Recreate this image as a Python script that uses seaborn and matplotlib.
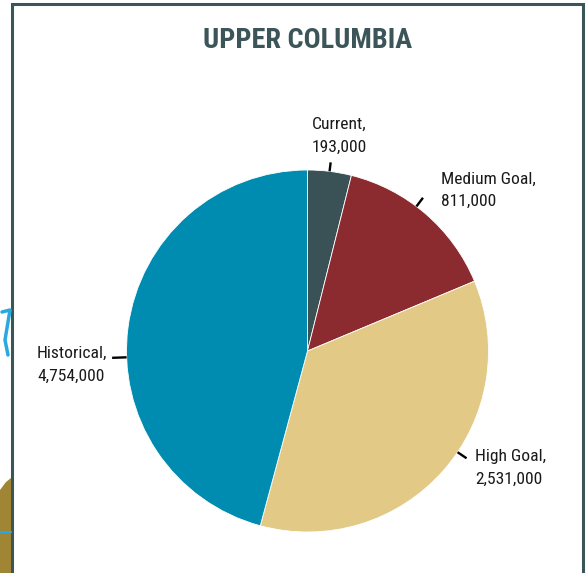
import numpy as np
import seaborn as sns
import matplotlib.pyplot as plt
from matplotlib.patches import Rectangle, Polygon

# data
categories = ["Current", "Medium Goal", "High Goal", "Historical"]
label_values = ["193,000", "811,000", "2,531,000", "4,754,000"]
# share of the circle each slice takes (percent)
slice_share = [3.9, 14.8, 35.5, 45.8]
colors = ["#3a5156", "#8b2a2f", "#e2c986", "#008bb0"]

sns.set_theme(style="white")
plt.rcParams['font.family'] = ['Roboto Condensed', 'Liberation Sans Narrow', 'Roboto', 'DejaVu Sans']

W, H = 587, 573
fig = plt.figure(figsize=(W / 100, H / 100), dpi=100)

# pie axes: centre (307.5, 351) px, radius 181 px
cx, cy, r = 307.5, 351, 181
ax = fig.add_axes([(cx - r) / W, (H - cy - r) / H, 2 * r / W, 2 * r / H])
wedges, _ = ax.pie(slice_share, colors=colors, startangle=90, counterclock=False,
                   radius=1, wedgeprops=dict(linewidth=0.6, edgecolor="white"))
ax.set_xlim(-1, 1)
ax.set_ylim(-1, 1)
ax.axis("off")

# leader line angle (deg clockwise from top), line end radius, text anchor
leader_ang = [7, 37, 124, 268]
leader_end = [1.05, 1.06, 1.06, 1.08]
text_pos = [(0.025, 1.188), (0.738, 0.887), (0.925, -0.646), (-1.494, -0.077)]
for cat, val, a, re, (tx, ty) in zip(categories, label_values, leader_ang, leader_end, text_pos):
    t = np.deg2rad(a)
    ax.plot([np.sin(t) * 1.0, np.sin(t) * re], [np.cos(t) * 1.0, np.cos(t) * re],
            color="black", lw=1.7, clip_on=False, solid_capstyle="butt")
    ax.text(tx, ty, f"{cat},\n{val}", ha="left", va="center", fontsize=12.6,
            linespacing=1.62, color="#1a1a1a", clip_on=False)

# title
fig.text(307.5 / W, 1 - 41 / H, "UPPER COLUMBIA", ha="center", va="center",
         fontsize=20.3, fontweight="bold", color="#3c5558")

# frame of the panel
fig.patches.append(Rectangle((12 / W, -0.05), (583 - 12) / W, 1 - 4 / H + 0.05,
                             transform=fig.transFigure, fill=False,
                             edgecolor="#3c5558", linewidth=2.2))

# bits of the neighbouring page visible on the left edge
fig.patches.append(Polygon([(0, 1 - 540 / H), (0, 1 - 490 / H), (6 / W, 1 - 482 / H),
                            (11 / W, 1 - 478 / H), (11 / W, 0), (0, 0)],
                           transform=fig.transFigure, facecolor="#a08634", edgecolor="none"))
fig.add_artist(plt.Line2D([0, 11 / W], [1 - 532 / H, 1 - 532 / H], transform=fig.transFigure,
                          color="#29a9e0", lw=1.5))
fig.add_artist(plt.Line2D([2 / W, 10 / W, 8 / W, 5 / W, 8 / W],
                          [1 - 312 / H, 1 - 310 / H, 1 - 322 / H, 1 - 340 / H, 1 - 355 / H],
                          transform=fig.transFigure, color="#29a9e0", lw=2.5))

fig.savefig("out.png", dpi=100)
